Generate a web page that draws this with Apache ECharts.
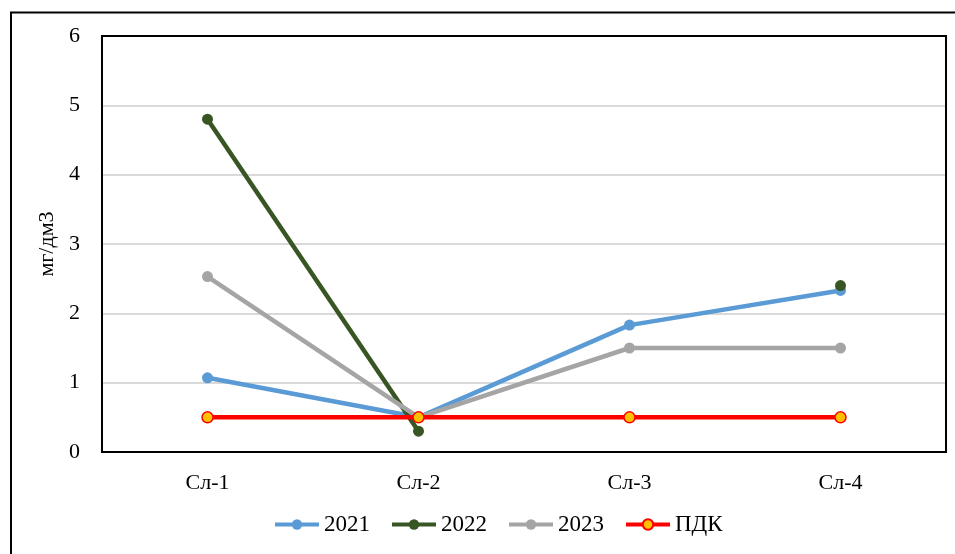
<!DOCTYPE html>
<html lang="ru">
<head>
    <meta charset="UTF-8">
    <title>мг/дм3</title>
    <script src="https://cdn.jsdelivr.net/npm/echarts@6/dist/echarts.min.js"></script>
    <style>
        html, body { margin: 0; padding: 0; background: #fff; }
        #container { width: 955px; height: 554px; }
    </style>
</head>
<body>
    <div id="container"></div>
<script>
    // data
    var categories = ['Сл-1', 'Сл-2', 'Сл-3', 'Сл-4'];
    var s2021 = [1.07, 0.5, 1.83, 2.33];
    var s2022 = [4.8, 0.3, null, 2.4];
    var s2023 = [2.53, 0.5, 1.5, 1.5];
    var pdk = [0.5, 0.5, 0.5, 0.5];
    var yTicks = { min: 0, max: 6, interval: 1 };

    var font = 'Liberation Serif, Times New Roman, serif';

    var chart = echarts.init(document.getElementById('container'));

    function lineSeries(name, data, color, extra) {
        var s = {
            name: name,
            type: 'line',
            data: data,
            symbol: 'circle',
            symbolSize: 11,
            connectNulls: false,
            lineStyle: { color: color, width: 4.5 },
            itemStyle: { color: color },
            emphasis: { disabled: true },
            animation: false
        };
        return Object.assign(s, extra || {});
    }

    var option = {
        backgroundColor: '#fff',
        textStyle: { fontFamily: font },
        graphic: [{
            type: 'polyline',
            shape: { points: [[11, 560], [11, 12.5], [960, 12.5]] },
            style: { stroke: '#000', lineWidth: 2, fill: null },
            silent: true
        }, {
            // plot area frame, drawn above the split lines
            type: 'rect',
            shape: { x: 102, y: 36, width: 844, height: 416 },
            style: { stroke: '#000', lineWidth: 2, fill: null },
            silent: true,
            z: 1
        }],
        grid: {
            left: 102, right: 9, top: 36, bottom: 102,
            containLabel: false
        },
        legend: {
            bottom: 13,
            left: 268,
            itemWidth: 44,
            itemHeight: 13,
            itemGap: 20,
            lineStyle: { width: 4 },
            textStyle: { fontFamily: font, fontSize: 23, color: '#000' },
            data: ['2021', '2022', '2023', 'ПДК']
        },
        xAxis: {
            type: 'category',
            data: categories,
            boundaryGap: true,
            axisLine: { show: false },
            axisTick: { show: false },
            axisLabel: { color: '#000', fontSize: 22, fontFamily: font, margin: 20 }
        },
        yAxis: {
            type: 'value',
            min: yTicks.min, max: yTicks.max, interval: yTicks.interval,
            name: 'мг/дм3',
            nameLocation: 'middle',
            nameGap: 43,
            nameTextStyle: { color: '#000', fontSize: 22, fontFamily: font },
            axisLine: { show: false },
            axisTick: { show: false },
            axisLabel: { color: '#000', fontSize: 22, fontFamily: font, margin: 22 },
            splitLine: { lineStyle: { color: '#D9D9D9', width: 2 } }
        },
        series: [
            lineSeries('2021', s2021, '#5B9BD5'),
            lineSeries('2022', s2022, '#375623'),
            lineSeries('2023', s2023, '#A5A5A5'),
            lineSeries('ПДК', pdk, '#FF0000', {
                itemStyle: { color: '#FFC000', borderColor: '#FF0000', borderWidth: 1.5 }
            })
        ]
    };

    chart.setOption(option);
</script>
</body>
</html>
